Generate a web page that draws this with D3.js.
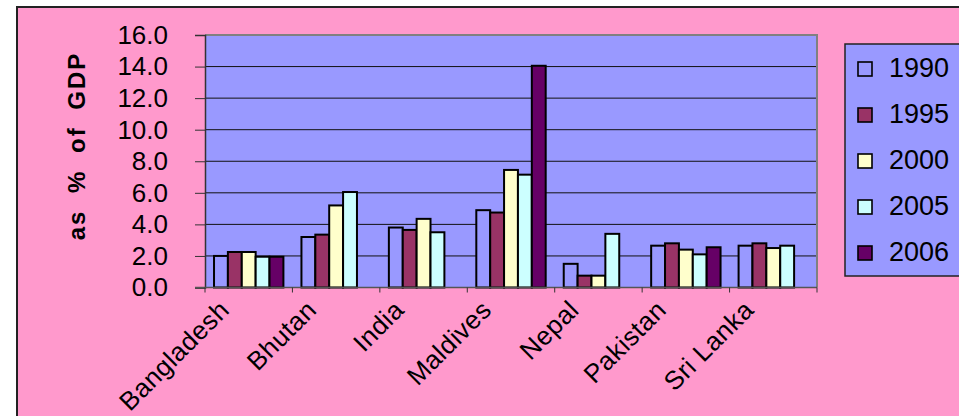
<!DOCTYPE html>
<meta charset="utf-8">
<style>
body { margin: 0; background: #fff; }
text { font-family: Arial, "Liberation Sans", sans-serif; fill: #000; }
</style>
<body>
<svg width="959" height="416"></svg>
<script src="https://d3js.org/d3.v7.min.js"></script>
<script>

var countries = ["Bangladesh", "Bhutan", "India", "Maldives", "Nepal", "Pakistan", "Sri Lanka"];
var years = ["1990", "1995", "2000", "2005", "2006"];
var colors = ["#9999FF", "#993366", "#FFFFCC", "#CCFFFF", "#660066"];

// values by year, one per country (null = no bar)
var v1990 = [2.0, 3.2, 3.8, 4.9, 1.5, 2.65, 2.65];
var v1995 = [2.25, 3.35, 3.65, 4.75, 0.75, 2.8, 2.8];
var v2000 = [2.25, 5.2, 4.35, 7.45, 0.75, 2.4, 2.5];
var v2005 = [1.95, 6.05, 3.5, 7.15, 3.4, 2.1, 2.65];
var v2006 = [1.95, null, null, 14.05, null, 2.55, null];
var series = [v1990, v1995, v2000, v2005, v2006];

var yTicks = [0, 2, 4, 6, 8, 10, 12, 14, 16];

var svg = d3.select("svg");

// chart background
svg.append("rect")
    .attr("x", 17).attr("y", 7)
    .attr("width", 960).attr("height", 420)
    .attr("fill", "#FF99CC")
    .attr("stroke", "#222").attr("stroke-width", 2);

var pLeft = 205, pRight = 817, pTop = 35, pBottom = 287.5;

var x = d3.scaleBand().domain(countries).range([pLeft, pRight]).paddingInner(0).paddingOuter(0);
var xi = d3.scaleBand().domain(years).range([0, x.bandwidth()]).paddingInner(0).paddingOuter(0.65);
var y = d3.scaleLinear().domain([0, 16]).range([pBottom, pTop]);

// plot area
svg.append("rect")
    .attr("x", pLeft).attr("y", pTop)
    .attr("width", pRight - pLeft).attr("height", pBottom - pTop)
    .attr("fill", "#9999FF");

// gridlines
svg.append("g")
  .selectAll("line")
  .data(yTicks.filter(function(d) { return d > 0 && d < 16; }))
  .enter().append("line")
    .attr("x1", pLeft).attr("x2", pRight)
    .attr("y1", function(d) { return y(d); })
    .attr("y2", function(d) { return y(d); })
    .attr("stroke", "#111").attr("stroke-width", 1);

// plot border top/right
svg.append("path")
    .attr("d", "M" + pLeft + "," + pTop + "H" + pRight + "V" + pBottom)
    .attr("fill", "none").attr("stroke", "#808080").attr("stroke-width", 2);

// bars
var bars = [];
series.forEach(function(vals, si) {
  vals.forEach(function(v, ci) {
    if (v != null) bars.push({ country: countries[ci], year: years[si], value: v, color: colors[si] });
  });
});

svg.append("g")
  .selectAll("rect")
  .data(bars)
  .enter().append("rect")
    .attr("x", function(d) { return x(d.country) + xi(d.year); })
    .attr("y", function(d) { return y(d.value); })
    .attr("width", xi.bandwidth())
    .attr("height", function(d) { return y(0) - y(d.value); })
    .attr("fill", function(d) { return d.color; })
    .attr("stroke", "#000").attr("stroke-width", 2);

// y axis
var yAxis = svg.append("g")
    .attr("transform", "translate(" + pLeft + ",0)")
    .call(d3.axisLeft(y).tickValues(yTicks).tickFormat(d3.format(".1f")).tickSize(10).tickPadding(27));
yAxis.select(".domain").attr("stroke", "#333").attr("stroke-width", 1.5);
yAxis.selectAll(".tick line").attr("stroke", "#333");
yAxis.selectAll("text").style("font-size", "26px").attr("font-family", null);

// x axis line + ticks between categories
svg.append("line")
    .attr("x1", pLeft - 10).attr("x2", pRight)
    .attr("y1", pBottom).attr("y2", pBottom)
    .attr("stroke", "#555").attr("stroke-width", 1.5);
svg.append("g")
  .selectAll("line")
  .data(countries.concat(["end"]))
  .enter().append("line")
    .attr("x1", function(d, i) { return pLeft + i * x.bandwidth(); })
    .attr("x2", function(d, i) { return pLeft + i * x.bandwidth(); })
    .attr("y1", pBottom).attr("y2", pBottom + 5)
    .attr("stroke", "#333");

// x labels
svg.append("g")
  .selectAll("text")
  .data(countries)
  .enter().append("text")
    .attr("transform", function(d) {
      return "translate(" + (x(d) + x.bandwidth() / 2 - 18) + "," + (pBottom + 24) + ") rotate(-45)";
    })
    .attr("text-anchor", "end")
    .style("font-size", "26px")
    .style("letter-spacing", "0.5px")
    .text(function(d) { return d; });

// y title
svg.append("text")
    .attr("transform", "translate(85,146) rotate(-90)")
    .attr("text-anchor", "middle")
    .style("font-size", "24px")
    .style("font-weight", "bold")
    .style("letter-spacing", "2px")
    .style("word-spacing", "8px")
    .text("as % of GDP");

// legend
var legend = svg.append("g");
legend.append("rect")
    .attr("x", 845).attr("y", 44)
    .attr("width", 140).attr("height", 232)
    .attr("fill", "#9999FF")
    .attr("stroke", "#222").attr("stroke-width", 1.5);

var item = legend.selectAll("g")
  .data(years)
  .enter().append("g")
    .attr("transform", function(d, i) { return "translate(858," + (62 + i * 46) + ")"; });
item.append("rect")
    .attr("width", 14).attr("height", 14)
    .attr("fill", function(d, i) { return colors[i]; })
    .attr("stroke", "#000").attr("stroke-width", 1.6);
item.append("text")
    .attr("x", 31).attr("y", 15)
    .style("font-size", "27px")
    .text(function(d) { return d; });

</script>
</body>
</html>
